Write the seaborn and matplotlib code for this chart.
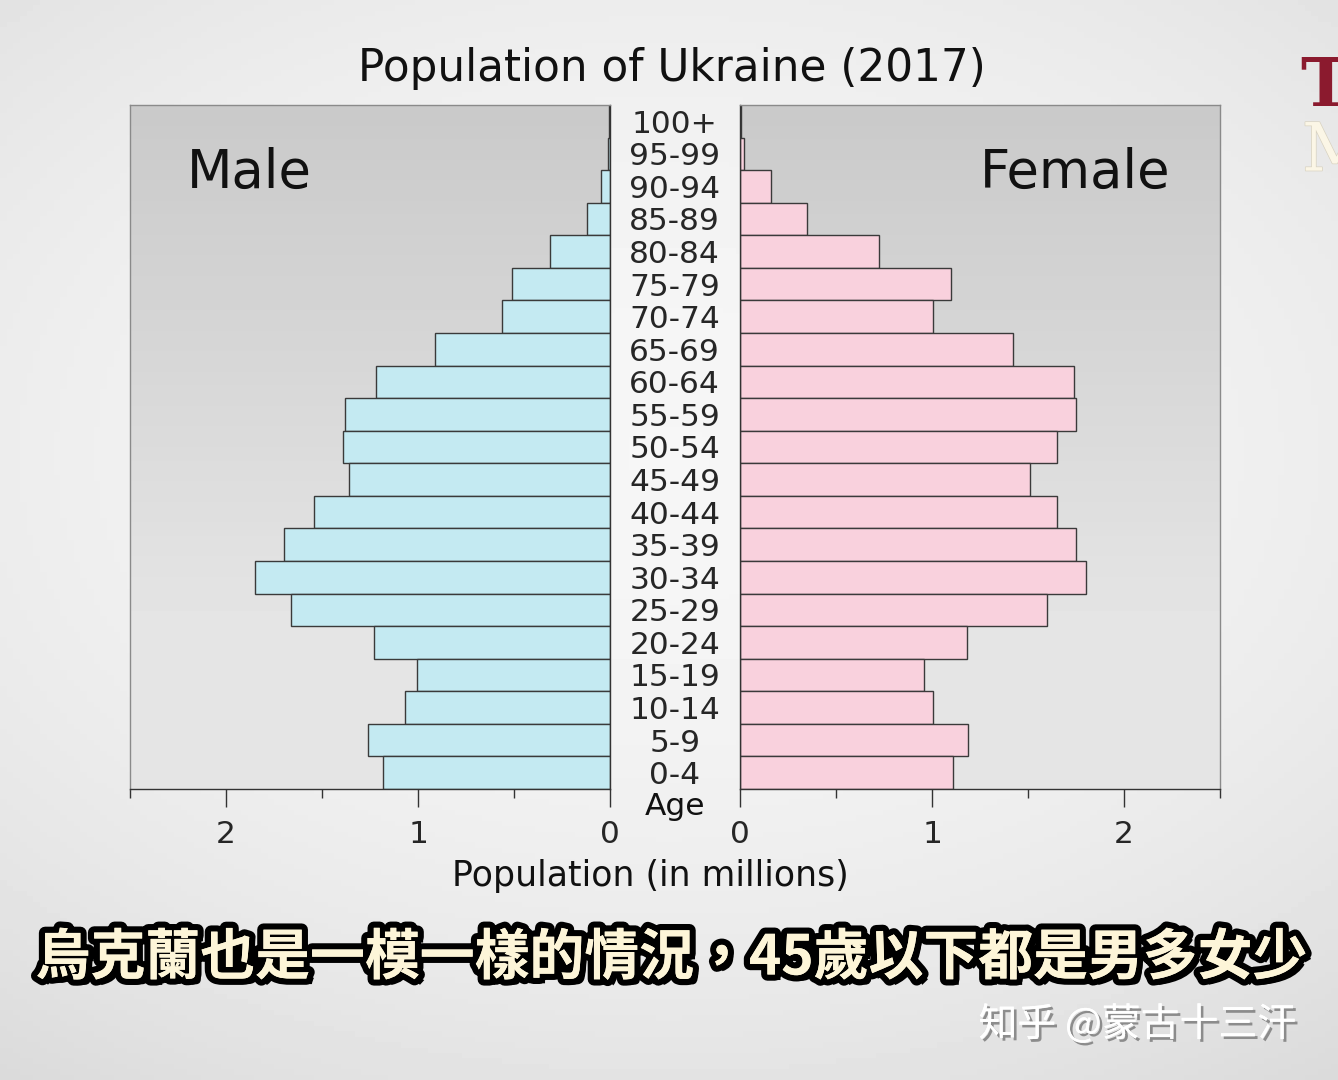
import numpy as np
import pandas as pd
import matplotlib
matplotlib.use("Agg")
import matplotlib.pyplot as plt
import matplotlib.patheffects as pe
from matplotlib.ticker import MultipleLocator
import seaborn as sns

# data (millions)
ages = ["100+", "95-99", "90-94", "85-89", "80-84", "75-79", "70-74", "65-69",
        "60-64", "55-59", "50-54", "45-49", "40-44", "35-39", "30-34", "25-29",
        "20-24", "15-19", "10-14", "5-9", "0-4"]
male = [0.003, 0.01, 0.045, 0.12, 0.31, 0.51, 0.565, 0.91,
        1.22, 1.38, 1.39, 1.36, 1.54, 1.70, 1.85, 1.66,
        1.23, 1.005, 1.07, 1.26, 1.18]
female = [0.005, 0.02, 0.16, 0.35, 0.725, 1.10, 1.005, 1.42,
          1.74, 1.75, 1.65, 1.51, 1.65, 1.75, 1.80, 1.60,
          1.18, 0.96, 1.005, 1.19, 1.11]
x_ticks = [0, 1, 2]

df = pd.DataFrame({"age": ages, "male": male, "female": female})

sns.set_theme(style="white")
plt.rcParams["font.family"] = ["DejaVu Sans"]

fig = plt.figure(figsize=(13.38, 10.8), dpi=100)

# background of the whole frame: light centre, greyer edges
bg = fig.add_axes([0, 0, 1, 1], zorder=-10)
yy, xx = np.mgrid[0:1:200j, 0:1:200j]
r = np.sqrt(((xx - 0.5) / 0.9) ** 2 + ((yy - 0.42) / 0.75) ** 2)
bg.imshow(0.965 - 0.12 * np.clip(r, 0, 1.3) ** 2, cmap="gray", vmin=0, vmax=1,
          extent=(0, 1, 0, 1), aspect="auto")
bg.axis("off")

ax_m = fig.add_axes([130 / 1338, 1 - 789 / 1080, 480 / 1338, 684 / 1080])
ax_f = fig.add_axes([740 / 1338, 1 - 789 / 1080, 480 / 1338, 684 / 1080])

# panel shading: darker at the top
grad = np.minimum(np.linspace(0.79, 0.93, 100), 0.895)[:, None] * np.ones((1, 50))
for ax in (ax_m, ax_f):
    ax.imshow(grad, cmap="gray", vmin=0, vmax=1, extent=(0, 1, 0, 1),
              origin="upper", transform=ax.transAxes, aspect="auto", zorder=0)

sns.barplot(data=df, x="male", y="age", order=ages, orient="h", ax=ax_m,
            color="#c4eaf2", saturation=1, edgecolor="#3a3a3a", linewidth=1,
            width=1.0, zorder=2)
sns.barplot(data=df, x="female", y="age", order=ages, orient="h", ax=ax_f,
            color="#f9d1dd", saturation=1, edgecolor="#3a3a3a", linewidth=1,
            width=1.0, zorder=2)

ax_m.set_xlim(2.5, 0)
ax_f.set_xlim(0, 2.5)
for ax in (ax_m, ax_f):
    ax.set_ylim(len(ages) - 0.5, -0.5)
    ax.set_xlabel("")
    ax.set_ylabel("")
    ax.set_xticks(x_ticks)
    ax.set_xticklabels([str(t) for t in x_ticks])
    ax.xaxis.set_minor_locator(MultipleLocator(0.5))
    ax.tick_params(axis="x", which="major", direction="out", length=13,
                   width=1, color="#333333", labelsize=22.5, pad=9, bottom=True)
    ax.tick_params(axis="x", which="minor", direction="out", length=6.5,
                   width=1, color="#333333", bottom=True)
    for s in ("top", "left", "right"):
        ax.spines[s].set_color("#8a8a8a")
        ax.spines[s].set_linewidth(1)
    ax.spines["bottom"].set_color("#333333")
    ax.spines["bottom"].set_linewidth(1)

ax_m.set_yticks([])
ax_m.spines["right"].set_color("#333333")
ax_f.spines["left"].set_color("#333333")
ax_f.tick_params(axis="y", length=0, pad=47, labelsize=22.5)
for lbl in ax_f.get_yticklabels():
    lbl.set_horizontalalignment("center")

ax_m.text(0.119, 0.90, "Male", transform=ax_m.transAxes, fontsize=38,
          ha="left", va="center", color="#111111")
ax_f.text(0.896, 0.90, "Female", transform=ax_f.transAxes, fontsize=38,
          ha="right", va="center", color="#111111")

fig.text(0.502, 0.937, "Population of Ukraine (2017)", fontsize=31.5,
         ha="center", va="center", color="#111111")
fig.text(0.5045, 0.2537, "Age", fontsize=22.5, ha="center", va="center",
         color="#111111")
fig.text(0.4858, 0.189, "Population (in millions)", fontsize=25,
         ha="center", va="center", color="#111111")

# subtitle caption
fig.text(0.502, 0.113, "烏克蘭也是一模一樣的情況，45歲以下都是男多女少",
         family=["Noto Sans CJK TC", "DejaVu Sans"], weight="black",
         fontsize=39.5, ha="center", va="center", color="#fdf5d8",
         path_effects=[pe.withSimplePatchShadow(offset=(4, -4), shadow_rgbFace="black", alpha=1),
                       pe.withStroke(linewidth=9, foreground="black"),
                       pe.Normal()])

# watermark
fig.text(0.85, 0.051, "知乎 @蒙古十三汗",
         family=["Noto Sans CJK SC", "DejaVu Sans"], fontsize=28,
         ha="center", va="center", color="#ffffff",
         path_effects=[pe.withSimplePatchShadow(offset=(2, -2), shadow_rgbFace="#777777", alpha=0.8),
                       pe.Normal()])

# logo fragment at the right edge (cut off, as in the source)
fig.text(1300 / 1338, 1 - 87 / 1080, "T", family="DejaVu Serif", weight="bold",
         fontsize=48, color="#8b1a2e", ha="left", va="center")
fig.text(1302 / 1338, 1 - 152 / 1080, "M", family="DejaVu Serif",
         fontsize=48, color="#fbf6e6", ha="left", va="center",
         path_effects=[pe.withStroke(linewidth=1, foreground="#d8d2c0")])

fig.savefig("out.png", dpi=100)
